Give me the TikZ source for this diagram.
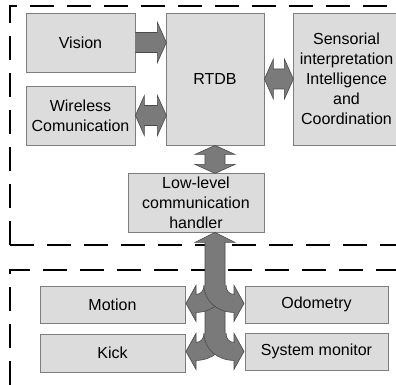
\documentclass[tikz,border=0pt]{standalone}
\usepackage{fontspec}
\setmainfont{Liberation Sans}
\usetikzlibrary{calc}
\definecolor{boxfill}{HTML}{DCDCDC}
\definecolor{boxline}{HTML}{7E7E7E}
\definecolor{arrfill}{HTML}{7A7A7A}
\definecolor{arrline}{HTML}{4A4A4A}

\begin{document}
\begin{tikzpicture}[x=1pt,y=-1pt,
  box/.style={draw=boxline,fill=boxfill,line width=0.8pt,inner sep=0pt,align=center,
    font=\fontsize{16}{20}\selectfont},
  fat/.style={draw=arrline,fill=arrfill,line width=0.6pt},
  frame/.style={line width=1.4pt,dash pattern=on 24pt off 13pt},
  oneway/.pic={
    \path[fat] (0,-10) -- ({#1-9},-10) -- ({#1-9},-20) -- (#1,0) -- ({#1-9},20)
      -- ({#1-9},10) -- (0,10);
  },
  twoway/.pic={
    \path[fat] (0,0) -- (9,-20) -- (9,-10) -- ({#1-9},-10) -- ({#1-9},-20) -- (#1,0)
      -- ({#1-9},20) -- ({#1-9},10) -- (9,10) -- (9,20) -- cycle;
  },
  busarm/.pic={
    \path[fat] (11,0) .. controls (11,16) and (-3,27) .. (-19,27) -- (-19,36) -- (-29,18)
      -- (-19,0) -- (-19,9) .. controls (-14,9) and (-11,5) .. (-11,0);
  }]
\useasboundingbox (0,0) rectangle (396,385);
\clip (0,0) rectangle (396,385);

\draw[frame] (10,245) -- (10,6) -- (410,6);
\draw[frame] (10,245) -- (410,245);
\draw[frame] (10,385) -- (10,270) -- (410,270);

\node[box,minimum width=109pt,minimum height=59pt] (vision) at (80.5,42.5) {Vision};
\node[box,minimum width=109pt,minimum height=59pt] (wireless) at (80.5,115.5) {Wireless\\Comunication};
\node[box,minimum width=98pt,minimum height=132pt] (rtdb) at (215,79) {RTDB};
\node[box,minimum width=107pt,minimum height=132pt] (sensor) at (346.5,79)
  {Sensorial\\interpretation\\Intelligence\\and\\Coordination};
\node[box,minimum width=136pt,minimum height=59pt] (lowlevel) at (196,202.5)
  {Low-level\\communication\\handler};

\node[box,minimum width=145pt,minimum height=37pt] (motion) at (112.5,304.5) {Motion};
\node[box,minimum width=145pt,minimum height=38pt] (kick) at (112.5,353) {Kick};
\node[box,minimum width=143pt,minimum height=37pt] (odometry) at (316.5,304.5) {Odometry};
\node[box,minimum width=143pt,minimum height=37pt] (sysmon) at (316.5,351.5) {System monitor};

\pic at (vision.east) {oneway=31};
\pic at (wireless.east) {twoway=31};
\pic at (rtdb.east) {twoway=29};
\pic[rotate=-90] at (rtdb.south) {twoway=28};

\coordinate (bus) at (rtdb.south|-lowlevel.south);
\path[fat] (bus) ++(-10,118) -- ++(0,-108) -- ++(-10,0) -- ++(20,-10) -- ++(20,10)
  -- ++(-10,0) -- ++(0,108);
\coordinate (fork1) at ($(bus)+(0,53)$);
\coordinate (fork2) at ($(bus)+(0,101)$);
\pic at (fork1) {busarm};
\pic[xscale=-1] at (fork1) {busarm};
\pic at (fork2) {busarm};
\pic[xscale=-1] at (fork2) {busarm};
\end{tikzpicture}
\end{document}
